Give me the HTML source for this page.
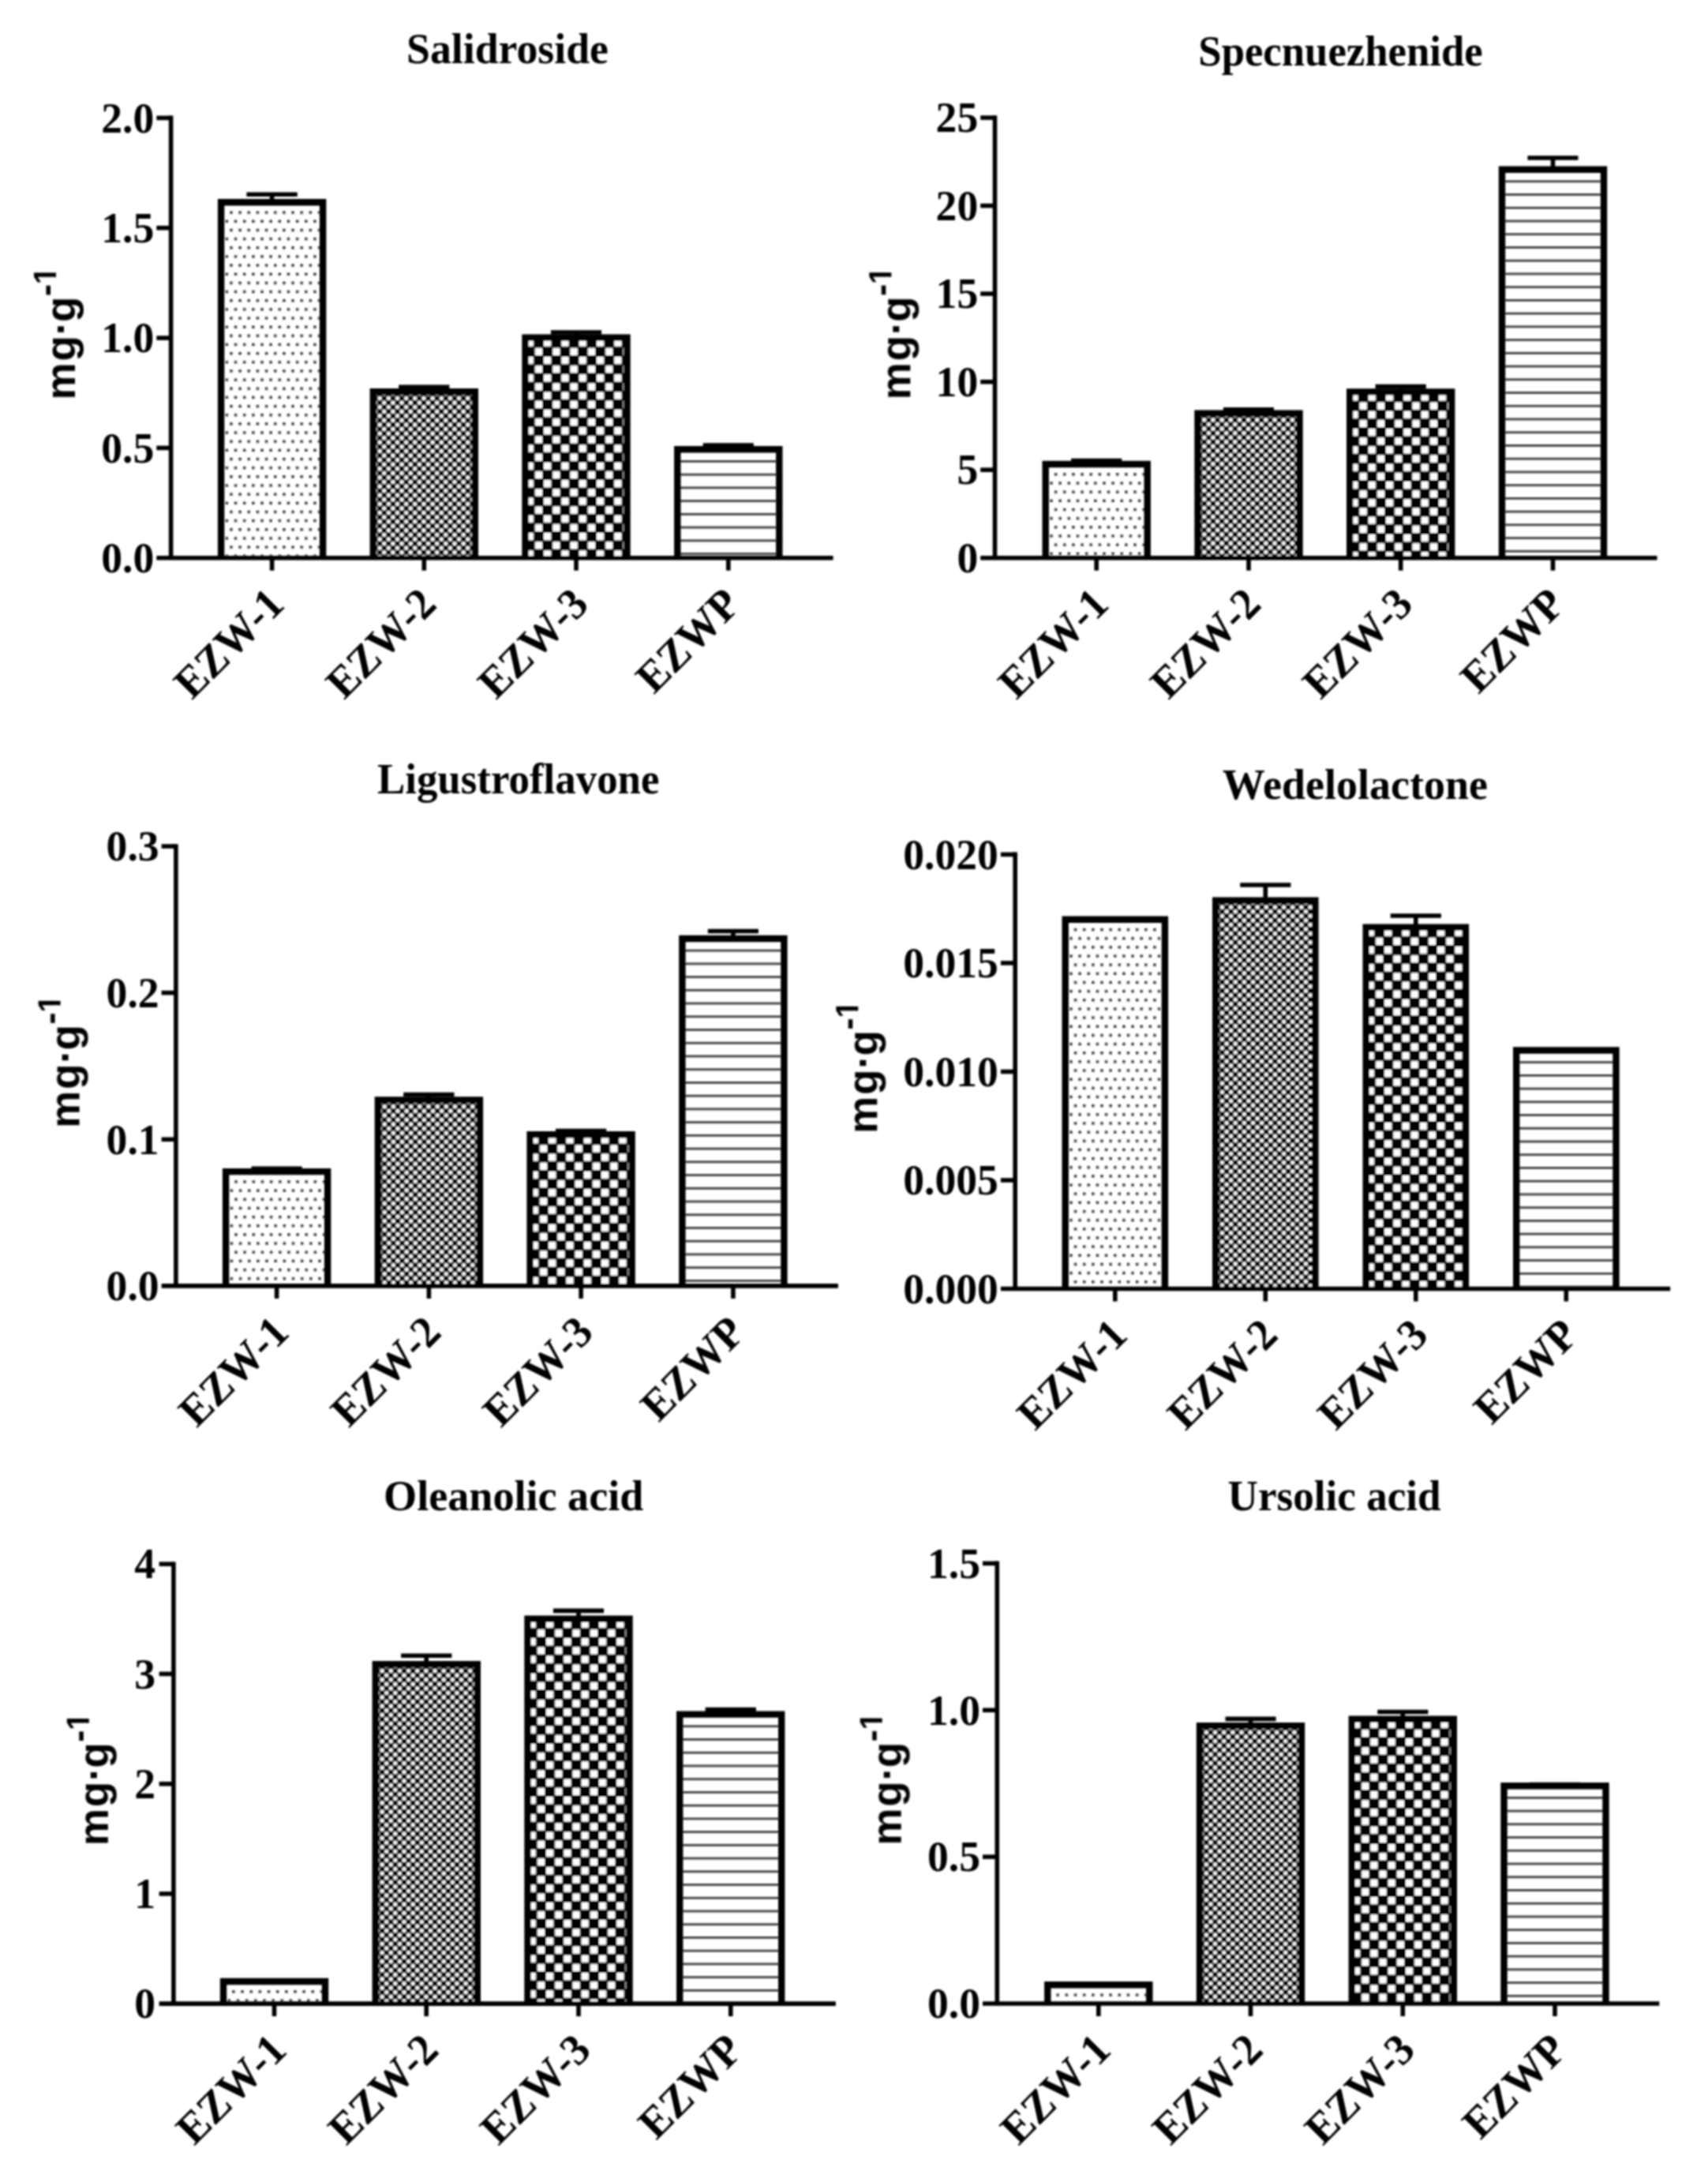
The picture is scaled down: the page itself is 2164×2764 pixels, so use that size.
<!DOCTYPE html>
<html lang="en"><head><meta charset="utf-8"><title>Figure</title>
<style>html,body{margin:0;padding:0;background:#fff}svg{display:block}text{font-weight:bold;fill:#000}.s{font-family:'Liberation Serif', serif;font-size:53.0px}.a{font-family:'Liberation Sans', sans-serif;font-size:53.0px}</style></head><body>
<svg width="2164" height="2764" viewBox="0 0 2164 2764">
<defs>
<filter id="bl" x="0" y="0" width="100%" height="100%" filterUnits="userSpaceOnUse" primitiveUnits="userSpaceOnUse"><feGaussianBlur stdDeviation="1.05"/></filter>
<clipPath id="cf"><path clip-rule="evenodd" d="M-60 -120H320V120H-60ZM147.72 -29.88H155.54V-22.00H147.72ZM161.02 -29.88H168.33V-22.00H161.02Z"/></clipPath>
</defs>
<rect x="0" y="0" width="2164" height="2764" fill="#fff"/>
<g filter="url(#bl)">
<g>
<text class="s" transform="translate(643.0 79.7) scale(1.0144 1.055)" text-anchor="middle">Salidroside</text>
<pattern id="p1" patternUnits="userSpaceOnUse" x="289.24" y="265.49" width="11.155" height="22.309"><rect x="2.000" y="2.000" width="3.4" height="3.4" fill="#333"/><rect x="7.577" y="13.155" width="3.4" height="3.4" fill="#333"/></pattern>
<path d="M312.4 246.2H376.7M344.6 246.2V256.3" stroke="#000" stroke-width="5.6" fill="none"/>
<rect x="280.1" y="256.3" width="129.0" height="450.4" fill="url(#p1)"/>
<path d="M280.1 706.7V256.3H409.1V706.7" fill="none" stroke="#000" stroke-width="8.4"/>
<pattern id="p2" patternUnits="userSpaceOnUse" x="478.36" y="501.76" width="11.155" height="11.155"><rect x="0" y="0" width="11.155" height="11.155" fill="#000"/><rect x="0.400" y="0.400" width="4.777" height="4.777" fill="#fff"/><rect x="5.977" y="5.977" width="4.777" height="4.777" fill="#fff"/></pattern>
<path d="M505.2 490.2H569.4M537.3 490.2V496.2" stroke="#000" stroke-width="5.6" fill="none"/>
<rect x="472.8" y="496.2" width="129.0" height="210.5" fill="url(#p2)"/>
<path d="M472.8 706.7V496.2H601.8V706.7" fill="none" stroke="#000" stroke-width="8.4"/>
<pattern id="p3" patternUnits="userSpaceOnUse" x="665.75" y="428.65" width="22.309" height="22.309"><rect x="0" y="0" width="22.309" height="22.309" fill="#000"/><rect x="0.900" y="0.900" width="9.355" height="9.355" fill="#fff"/><rect x="12.055" y="12.055" width="9.355" height="9.355" fill="#fff"/></pattern>
<path d="M697.9 421.0H762.1M730.0 421.0V427.6" stroke="#000" stroke-width="5.6" fill="none"/>
<rect x="665.5" y="427.6" width="129.0" height="279.1" fill="url(#p3)"/>
<path d="M665.5 706.7V427.6H794.5V706.7" fill="none" stroke="#000" stroke-width="8.4"/>
<pattern id="p4" patternUnits="userSpaceOnUse" x="854.10" y="583.00" width="16.732" height="16.732"><rect x="0" y="0" width="16.732" height="2.789" fill="#3c3c3c"/></pattern>
<path d="M890.7 564.0H954.9M922.8 564.0V569.3" stroke="#000" stroke-width="5.6" fill="none"/>
<rect x="858.3" y="569.3" width="129.0" height="137.4" fill="url(#p4)"/>
<path d="M858.3 706.7V569.3H987.3V706.7" fill="none" stroke="#000" stroke-width="8.4"/>
<path d="M198.3 706.7H1055.6" stroke="#000" stroke-width="5.6" fill="none"/>
<path d="M216.6 146.6V706.7" stroke="#000" stroke-width="5.6" fill="none"/>
<text class="s" transform="translate(195.3 724.9) scale(1.012 1.055)" text-anchor="end">0.0</text>
<path d="M198.3 567.4H216.6" stroke="#000" stroke-width="5.6" fill="none"/>
<text class="s" transform="translate(195.3 585.6) scale(1.012 1.055)" text-anchor="end">0.5</text>
<path d="M198.3 428.1H216.6" stroke="#000" stroke-width="5.6" fill="none"/>
<text class="s" transform="translate(195.3 446.2) scale(1.012 1.055)" text-anchor="end">1.0</text>
<path d="M198.3 288.7H216.6" stroke="#000" stroke-width="5.6" fill="none"/>
<text class="s" transform="translate(195.3 306.9) scale(1.012 1.055)" text-anchor="end">1.5</text>
<path d="M198.3 149.4H216.6" stroke="#000" stroke-width="5.6" fill="none"/>
<text class="s" transform="translate(195.3 167.6) scale(1.012 1.055)" text-anchor="end">2.0</text>
<path d="M344.6 706.7V722.7" stroke="#000" stroke-width="5.6" fill="none"/>
<text class="s" transform="translate(362.6 768.2) rotate(-45) scale(1.018 1.055)" text-anchor="end">EZW-1</text>
<path d="M537.3 706.7V722.7" stroke="#000" stroke-width="5.6" fill="none"/>
<text class="s" transform="translate(555.3 768.2) rotate(-45) scale(1.018 1.055)" text-anchor="end">EZW-2</text>
<path d="M730.0 706.7V722.7" stroke="#000" stroke-width="5.6" fill="none"/>
<text class="s" transform="translate(748.0 768.2) rotate(-45) scale(1.018 1.055)" text-anchor="end">EZW-3</text>
<path d="M922.8 706.7V722.7" stroke="#000" stroke-width="5.6" fill="none"/>
<text class="s" transform="translate(940.8 768.2) rotate(-45) scale(1.018 1.055)" text-anchor="end">EZWP</text>
<text class="a" clip-path="url(#cf)" transform="translate(95.0 506.5) rotate(-90)"><tspan x="0" y="0">m</tspan><tspan x="49.1" y="0">g</tspan><tspan x="82.1" y="0">·</tspan><tspan x="98.5" y="0">g</tspan><tspan x="131.3" y="-22.5" font-size="46">-</tspan><tspan x="146.2" y="-24.3" font-size="40">1</tspan></text>
</g>
<g>
<text class="s" transform="translate(1698.5 82.6) scale(0.9952 1.055)" text-anchor="middle">Specnuezhenide</text>
<pattern id="p5" patternUnits="userSpaceOnUse" x="1333.89" y="597.19" width="11.155" height="22.309"><rect x="2.000" y="2.000" width="3.4" height="3.4" fill="#333"/><rect x="7.577" y="13.155" width="3.4" height="3.4" fill="#333"/></pattern>
<path d="M1357.1 583.6H1421.3M1389.2 583.6V588.0" stroke="#000" stroke-width="5.6" fill="none"/>
<rect x="1324.7" y="588.0" width="129.0" height="118.7" fill="url(#p5)"/>
<path d="M1324.7 706.7V588.0H1453.7V706.7" fill="none" stroke="#000" stroke-width="8.4"/>
<pattern id="p6" patternUnits="userSpaceOnUse" x="1523.01" y="529.16" width="11.155" height="11.155"><rect x="0" y="0" width="11.155" height="11.155" fill="#000"/><rect x="0.400" y="0.400" width="4.777" height="4.777" fill="#fff"/><rect x="5.977" y="5.977" width="4.777" height="4.777" fill="#fff"/></pattern>
<path d="M1549.9 518.8H1614.0M1582.0 518.8V523.6" stroke="#000" stroke-width="5.6" fill="none"/>
<rect x="1517.5" y="523.6" width="129.0" height="183.1" fill="url(#p6)"/>
<path d="M1517.5 706.7V523.6H1646.5V706.7" fill="none" stroke="#000" stroke-width="8.4"/>
<pattern id="p7" patternUnits="userSpaceOnUse" x="1710.40" y="497.45" width="22.309" height="22.309"><rect x="0" y="0" width="22.309" height="22.309" fill="#000"/><rect x="0.900" y="0.900" width="9.355" height="9.355" fill="#fff"/><rect x="12.055" y="12.055" width="9.355" height="9.355" fill="#fff"/></pattern>
<path d="M1742.6 489.6H1806.8M1774.7 489.6V496.4" stroke="#000" stroke-width="5.6" fill="none"/>
<rect x="1710.2" y="496.4" width="129.0" height="210.3" fill="url(#p7)"/>
<path d="M1710.2 706.7V496.4H1839.2V706.7" fill="none" stroke="#000" stroke-width="8.4"/>
<pattern id="p8" patternUnits="userSpaceOnUse" x="1898.75" y="228.40" width="16.732" height="16.732"><rect x="0" y="0" width="16.732" height="2.789" fill="#3c3c3c"/></pattern>
<path d="M1935.4 200.0H1999.5M1967.5 200.0V214.7" stroke="#000" stroke-width="5.6" fill="none"/>
<rect x="1903.0" y="214.7" width="129.0" height="492.0" fill="url(#p8)"/>
<path d="M1903.0 706.7V214.7H2032.0V706.7" fill="none" stroke="#000" stroke-width="8.4"/>
<path d="M1242.2 706.7H2099.5" stroke="#000" stroke-width="5.6" fill="none"/>
<path d="M1260.5 146.3V706.7" stroke="#000" stroke-width="5.6" fill="none"/>
<text class="s" transform="translate(1239.2 724.9) scale(1.012 1.055)" text-anchor="end">0</text>
<path d="M1242.2 595.2H1260.5" stroke="#000" stroke-width="5.6" fill="none"/>
<text class="s" transform="translate(1239.2 613.4) scale(1.012 1.055)" text-anchor="end">5</text>
<path d="M1242.2 483.7H1260.5" stroke="#000" stroke-width="5.6" fill="none"/>
<text class="s" transform="translate(1239.2 501.9) scale(1.012 1.055)" text-anchor="end">10</text>
<path d="M1242.2 372.1H1260.5" stroke="#000" stroke-width="5.6" fill="none"/>
<text class="s" transform="translate(1239.2 390.3) scale(1.012 1.055)" text-anchor="end">15</text>
<path d="M1242.2 260.6H1260.5" stroke="#000" stroke-width="5.6" fill="none"/>
<text class="s" transform="translate(1239.2 278.8) scale(1.012 1.055)" text-anchor="end">20</text>
<path d="M1242.2 149.1H1260.5" stroke="#000" stroke-width="5.6" fill="none"/>
<text class="s" transform="translate(1239.2 167.3) scale(1.012 1.055)" text-anchor="end">25</text>
<path d="M1389.2 706.7V722.7" stroke="#000" stroke-width="5.6" fill="none"/>
<text class="s" transform="translate(1407.2 768.2) rotate(-45) scale(1.018 1.055)" text-anchor="end">EZW-1</text>
<path d="M1582.0 706.7V722.7" stroke="#000" stroke-width="5.6" fill="none"/>
<text class="s" transform="translate(1600.0 768.2) rotate(-45) scale(1.018 1.055)" text-anchor="end">EZW-2</text>
<path d="M1774.7 706.7V722.7" stroke="#000" stroke-width="5.6" fill="none"/>
<text class="s" transform="translate(1792.7 768.2) rotate(-45) scale(1.018 1.055)" text-anchor="end">EZW-3</text>
<path d="M1967.5 706.7V722.7" stroke="#000" stroke-width="5.6" fill="none"/>
<text class="s" transform="translate(1985.5 768.2) rotate(-45) scale(1.018 1.055)" text-anchor="end">EZWP</text>
<text class="a" clip-path="url(#cf)" transform="translate(1153.3 506.3) rotate(-90)"><tspan x="0" y="0">m</tspan><tspan x="49.1" y="0">g</tspan><tspan x="82.1" y="0">·</tspan><tspan x="98.5" y="0">g</tspan><tspan x="131.3" y="-22.5" font-size="46">-</tspan><tspan x="146.2" y="-24.3" font-size="40">1</tspan></text>
</g>
<g>
<text class="s" transform="translate(656.7 1004.6) scale(0.9985 1.055)" text-anchor="middle">Ligustroflavone</text>
<pattern id="p9" patternUnits="userSpaceOnUse" x="295.29" y="1493.29" width="11.155" height="22.309"><rect x="2.000" y="2.000" width="3.4" height="3.4" fill="#333"/><rect x="7.577" y="13.155" width="3.4" height="3.4" fill="#333"/></pattern>
<path d="M318.5 1480.2H382.7M350.6 1480.2V1484.1" stroke="#000" stroke-width="5.6" fill="none"/>
<rect x="286.1" y="1484.1" width="129.0" height="144.8" fill="url(#p9)"/>
<path d="M286.1 1628.9V1484.1H415.1V1628.9" fill="none" stroke="#000" stroke-width="8.4"/>
<pattern id="p10" patternUnits="userSpaceOnUse" x="484.41" y="1398.96" width="11.155" height="11.155"><rect x="0" y="0" width="11.155" height="11.155" fill="#000"/><rect x="0.400" y="0.400" width="4.777" height="4.777" fill="#fff"/><rect x="5.977" y="5.977" width="4.777" height="4.777" fill="#fff"/></pattern>
<path d="M511.2 1386.5H575.5M543.4 1386.5V1393.4" stroke="#000" stroke-width="5.6" fill="none"/>
<rect x="478.9" y="1393.4" width="129.0" height="235.5" fill="url(#p10)"/>
<path d="M478.9 1628.9V1393.4H607.9V1628.9" fill="none" stroke="#000" stroke-width="8.4"/>
<pattern id="p11" patternUnits="userSpaceOnUse" x="671.80" y="1438.25" width="22.309" height="22.309"><rect x="0" y="0" width="22.309" height="22.309" fill="#000"/><rect x="0.900" y="0.900" width="9.355" height="9.355" fill="#fff"/><rect x="12.055" y="12.055" width="9.355" height="9.355" fill="#fff"/></pattern>
<path d="M704.0 1432.6H768.2M736.1 1432.6V1437.2" stroke="#000" stroke-width="5.6" fill="none"/>
<rect x="671.6" y="1437.2" width="129.0" height="191.7" fill="url(#p11)"/>
<path d="M671.6 1628.9V1437.2H800.6V1628.9" fill="none" stroke="#000" stroke-width="8.4"/>
<pattern id="p12" patternUnits="userSpaceOnUse" x="860.15" y="1202.70" width="16.732" height="16.732"><rect x="0" y="0" width="16.732" height="2.789" fill="#3c3c3c"/></pattern>
<path d="M896.8 1179.5H961.0M928.9 1179.5V1189.0" stroke="#000" stroke-width="5.6" fill="none"/>
<rect x="864.4" y="1189.0" width="129.0" height="439.9" fill="url(#p12)"/>
<path d="M864.4 1628.9V1189.0H993.4V1628.9" fill="none" stroke="#000" stroke-width="8.4"/>
<path d="M204.6 1628.9H1061.9" stroke="#000" stroke-width="5.6" fill="none"/>
<path d="M222.9 1069.2V1628.9" stroke="#000" stroke-width="5.6" fill="none"/>
<text class="s" transform="translate(201.6 1647.1) scale(1.012 1.055)" text-anchor="end">0.0</text>
<path d="M204.6 1443.3H222.9" stroke="#000" stroke-width="5.6" fill="none"/>
<text class="s" transform="translate(201.6 1461.5) scale(1.012 1.055)" text-anchor="end">0.1</text>
<path d="M204.6 1257.6H222.9" stroke="#000" stroke-width="5.6" fill="none"/>
<text class="s" transform="translate(201.6 1275.8) scale(1.012 1.055)" text-anchor="end">0.2</text>
<path d="M204.6 1072.0H222.9" stroke="#000" stroke-width="5.6" fill="none"/>
<text class="s" transform="translate(201.6 1090.2) scale(1.012 1.055)" text-anchor="end">0.3</text>
<path d="M350.6 1628.9V1644.9" stroke="#000" stroke-width="5.6" fill="none"/>
<text class="s" transform="translate(368.6 1690.4) rotate(-45) scale(1.018 1.055)" text-anchor="end">EZW-1</text>
<path d="M543.4 1628.9V1644.9" stroke="#000" stroke-width="5.6" fill="none"/>
<text class="s" transform="translate(561.4 1690.4) rotate(-45) scale(1.018 1.055)" text-anchor="end">EZW-2</text>
<path d="M736.1 1628.9V1644.9" stroke="#000" stroke-width="5.6" fill="none"/>
<text class="s" transform="translate(754.1 1690.4) rotate(-45) scale(1.018 1.055)" text-anchor="end">EZW-3</text>
<path d="M928.9 1628.9V1644.9" stroke="#000" stroke-width="5.6" fill="none"/>
<text class="s" transform="translate(946.9 1690.4) rotate(-45) scale(1.018 1.055)" text-anchor="end">EZWP</text>
<text class="a" clip-path="url(#cf)" transform="translate(100.6 1428.9) rotate(-90)"><tspan x="0" y="0">m</tspan><tspan x="49.1" y="0">g</tspan><tspan x="82.1" y="0">·</tspan><tspan x="98.5" y="0">g</tspan><tspan x="131.3" y="-22.5" font-size="46">-</tspan><tspan x="146.2" y="-24.3" font-size="40">1</tspan></text>
</g>
<g>
<text class="s" transform="translate(1716.9 1012.4) scale(1.0194 1.055)" text-anchor="middle">Wedelolactone</text>
<pattern id="p13" patternUnits="userSpaceOnUse" x="1358.84" y="1173.89" width="11.155" height="22.309"><rect x="2.000" y="2.000" width="3.4" height="3.4" fill="#333"/><rect x="7.577" y="13.155" width="3.4" height="3.4" fill="#333"/></pattern>
<rect x="1349.7" y="1164.7" width="126.3" height="467.8" fill="url(#p13)"/>
<path d="M1349.7 1632.5V1164.7H1475.9V1632.5" fill="none" stroke="#000" stroke-width="8.4"/>
<pattern id="p14" patternUnits="userSpaceOnUse" x="1545.71" y="1146.36" width="11.155" height="11.155"><rect x="0" y="0" width="11.155" height="11.155" fill="#000"/><rect x="0.400" y="0.400" width="4.777" height="4.777" fill="#fff"/><rect x="5.977" y="5.977" width="4.777" height="4.777" fill="#fff"/></pattern>
<path d="M1571.2 1121.0H1635.4M1603.3 1121.0V1140.8" stroke="#000" stroke-width="5.6" fill="none"/>
<rect x="1540.2" y="1140.8" width="126.3" height="491.7" fill="url(#p14)"/>
<path d="M1540.2 1632.5V1140.8H1666.4V1632.5" fill="none" stroke="#000" stroke-width="8.4"/>
<pattern id="p15" patternUnits="userSpaceOnUse" x="1730.85" y="1175.65" width="22.309" height="22.309"><rect x="0" y="0" width="22.309" height="22.309" fill="#000"/><rect x="0.900" y="0.900" width="9.355" height="9.355" fill="#fff"/><rect x="12.055" y="12.055" width="9.355" height="9.355" fill="#fff"/></pattern>
<path d="M1761.7 1160.0H1825.9M1793.8 1160.0V1174.6" stroke="#000" stroke-width="5.6" fill="none"/>
<rect x="1730.7" y="1174.6" width="126.3" height="457.9" fill="url(#p15)"/>
<path d="M1730.7 1632.5V1174.6H1856.9V1632.5" fill="none" stroke="#000" stroke-width="8.4"/>
<pattern id="p16" patternUnits="userSpaceOnUse" x="1916.95" y="1344.20" width="16.732" height="16.732"><rect x="0" y="0" width="16.732" height="2.789" fill="#3c3c3c"/></pattern>
<rect x="1921.2" y="1330.5" width="126.3" height="302.0" fill="url(#p16)"/>
<path d="M1921.2 1632.5V1330.5H2047.5V1632.5" fill="none" stroke="#000" stroke-width="8.4"/>
<path d="M1267.9 1632.5H2116.2" stroke="#000" stroke-width="5.6" fill="none"/>
<path d="M1286.2 1079.6V1632.5" stroke="#000" stroke-width="5.6" fill="none"/>
<text class="s" transform="translate(1264.9 1650.7) scale(1.012 1.055)" text-anchor="end">0.000</text>
<path d="M1267.9 1495.0H1286.2" stroke="#000" stroke-width="5.6" fill="none"/>
<text class="s" transform="translate(1264.9 1513.2) scale(1.012 1.055)" text-anchor="end">0.005</text>
<path d="M1267.9 1357.5H1286.2" stroke="#000" stroke-width="5.6" fill="none"/>
<text class="s" transform="translate(1264.9 1375.7) scale(1.012 1.055)" text-anchor="end">0.010</text>
<path d="M1267.9 1219.9H1286.2" stroke="#000" stroke-width="5.6" fill="none"/>
<text class="s" transform="translate(1264.9 1238.1) scale(1.012 1.055)" text-anchor="end">0.015</text>
<path d="M1267.9 1082.4H1286.2" stroke="#000" stroke-width="5.6" fill="none"/>
<text class="s" transform="translate(1264.9 1100.6) scale(1.012 1.055)" text-anchor="end">0.020</text>
<path d="M1412.8 1632.5V1648.5" stroke="#000" stroke-width="5.6" fill="none"/>
<text class="s" transform="translate(1430.8 1694.0) rotate(-45) scale(1.018 1.055)" text-anchor="end">EZW-1</text>
<path d="M1603.3 1632.5V1648.5" stroke="#000" stroke-width="5.6" fill="none"/>
<text class="s" transform="translate(1621.3 1694.0) rotate(-45) scale(1.018 1.055)" text-anchor="end">EZW-2</text>
<path d="M1793.8 1632.5V1648.5" stroke="#000" stroke-width="5.6" fill="none"/>
<text class="s" transform="translate(1811.8 1694.0) rotate(-45) scale(1.018 1.055)" text-anchor="end">EZW-3</text>
<path d="M1984.3 1632.5V1648.5" stroke="#000" stroke-width="5.6" fill="none"/>
<text class="s" transform="translate(2002.3 1694.0) rotate(-45) scale(1.018 1.055)" text-anchor="end">EZWP</text>
<text class="a" clip-path="url(#cf)" transform="translate(1111.3 1435.9) rotate(-90)"><tspan x="0" y="0">m</tspan><tspan x="49.1" y="0">g</tspan><tspan x="82.1" y="0">·</tspan><tspan x="98.5" y="0">g</tspan><tspan x="131.3" y="-22.5" font-size="46">-</tspan><tspan x="146.2" y="-24.3" font-size="40">1</tspan></text>
</g>
<g>
<text class="s" transform="translate(650.7 1913.2) scale(1.0218 1.055)" text-anchor="middle">Oleanolic acid</text>
<pattern id="p17" patternUnits="userSpaceOnUse" x="292.19" y="2519.19" width="11.155" height="22.309"><rect x="2.000" y="2.000" width="3.4" height="3.4" fill="#333"/><rect x="7.577" y="13.155" width="3.4" height="3.4" fill="#333"/></pattern>
<rect x="283.0" y="2510.0" width="129.0" height="28.1" fill="url(#p17)"/>
<path d="M283.0 2538.1V2510.0H412.0V2538.1" fill="none" stroke="#000" stroke-width="8.4"/>
<pattern id="p18" patternUnits="userSpaceOnUse" x="481.31" y="2113.76" width="11.155" height="11.155"><rect x="0" y="0" width="11.155" height="11.155" fill="#000"/><rect x="0.400" y="0.400" width="4.777" height="4.777" fill="#fff"/><rect x="5.977" y="5.977" width="4.777" height="4.777" fill="#fff"/></pattern>
<path d="M508.1 2097.2H572.4M540.2 2097.2V2108.2" stroke="#000" stroke-width="5.6" fill="none"/>
<rect x="475.8" y="2108.2" width="129.0" height="429.9" fill="url(#p18)"/>
<path d="M475.8 2538.1V2108.2H604.8V2538.1" fill="none" stroke="#000" stroke-width="8.4"/>
<pattern id="p19" patternUnits="userSpaceOnUse" x="668.70" y="2051.85" width="22.309" height="22.309"><rect x="0" y="0" width="22.309" height="22.309" fill="#000"/><rect x="0.900" y="0.900" width="9.355" height="9.355" fill="#fff"/><rect x="12.055" y="12.055" width="9.355" height="9.355" fill="#fff"/></pattern>
<path d="M700.9 2040.4H765.1M733.0 2040.4V2050.8" stroke="#000" stroke-width="5.6" fill="none"/>
<rect x="668.5" y="2050.8" width="129.0" height="487.3" fill="url(#p19)"/>
<path d="M668.5 2538.1V2050.8H797.5V2538.1" fill="none" stroke="#000" stroke-width="8.4"/>
<pattern id="p20" patternUnits="userSpaceOnUse" x="857.05" y="2185.30" width="16.732" height="16.732"><rect x="0" y="0" width="16.732" height="2.789" fill="#3c3c3c"/></pattern>
<path d="M893.6 2165.6H957.9M925.8 2165.6V2171.6" stroke="#000" stroke-width="5.6" fill="none"/>
<rect x="861.2" y="2171.6" width="129.0" height="366.5" fill="url(#p20)"/>
<path d="M861.2 2538.1V2171.6H990.2V2538.1" fill="none" stroke="#000" stroke-width="8.4"/>
<path d="M201.6 2538.1H1058.9" stroke="#000" stroke-width="5.6" fill="none"/>
<path d="M219.9 1978.4V2538.1" stroke="#000" stroke-width="5.6" fill="none"/>
<text class="s" transform="translate(197.0 2556.3) scale(1.012 1.055)" text-anchor="end">0</text>
<path d="M201.6 2398.9H219.9" stroke="#000" stroke-width="5.6" fill="none"/>
<text class="s" transform="translate(197.0 2417.1) scale(1.012 1.055)" text-anchor="end">1</text>
<path d="M201.6 2259.7H219.9" stroke="#000" stroke-width="5.6" fill="none"/>
<text class="s" transform="translate(197.0 2277.8) scale(1.012 1.055)" text-anchor="end">2</text>
<path d="M201.6 2120.4H219.9" stroke="#000" stroke-width="5.6" fill="none"/>
<text class="s" transform="translate(197.0 2138.6) scale(1.012 1.055)" text-anchor="end">3</text>
<path d="M201.6 1981.2H219.9" stroke="#000" stroke-width="5.6" fill="none"/>
<text class="s" transform="translate(197.0 1999.4) scale(1.012 1.055)" text-anchor="end">4</text>
<path d="M347.5 2538.1V2554.1" stroke="#000" stroke-width="5.6" fill="none"/>
<text class="s" transform="translate(365.5 2599.6) rotate(-45) scale(1.018 1.055)" text-anchor="end">EZW-1</text>
<path d="M540.2 2538.1V2554.1" stroke="#000" stroke-width="5.6" fill="none"/>
<text class="s" transform="translate(558.2 2599.6) rotate(-45) scale(1.018 1.055)" text-anchor="end">EZW-2</text>
<path d="M733.0 2538.1V2554.1" stroke="#000" stroke-width="5.6" fill="none"/>
<text class="s" transform="translate(751.0 2599.6) rotate(-45) scale(1.018 1.055)" text-anchor="end">EZW-3</text>
<path d="M925.8 2538.1V2554.1" stroke="#000" stroke-width="5.6" fill="none"/>
<text class="s" transform="translate(943.8 2599.6) rotate(-45) scale(1.018 1.055)" text-anchor="end">EZWP</text>
<text class="a" clip-path="url(#cf)" transform="translate(136.8 2338.1) rotate(-90)"><tspan x="0" y="0">m</tspan><tspan x="49.1" y="0">g</tspan><tspan x="82.1" y="0">·</tspan><tspan x="98.5" y="0">g</tspan><tspan x="131.3" y="-22.5" font-size="46">-</tspan><tspan x="146.2" y="-24.3" font-size="40">1</tspan></text>
</g>
<g>
<text class="s" transform="translate(1690.6 1913.2) scale(1.003 1.055)" text-anchor="middle">Ursolic acid</text>
<pattern id="p21" patternUnits="userSpaceOnUse" x="1336.49" y="2523.39" width="11.155" height="22.309"><rect x="2.000" y="2.000" width="3.4" height="3.4" fill="#333"/><rect x="7.577" y="13.155" width="3.4" height="3.4" fill="#333"/></pattern>
<rect x="1327.3" y="2514.2" width="129.0" height="23.8" fill="url(#p21)"/>
<path d="M1327.3 2538.0V2514.2H1456.3V2538.0" fill="none" stroke="#000" stroke-width="8.4"/>
<pattern id="p22" patternUnits="userSpaceOnUse" x="1525.61" y="2191.66" width="11.155" height="11.155"><rect x="0" y="0" width="11.155" height="11.155" fill="#000"/><rect x="0.400" y="0.400" width="4.777" height="4.777" fill="#fff"/><rect x="5.977" y="5.977" width="4.777" height="4.777" fill="#fff"/></pattern>
<path d="M1552.5 2177.4H1616.6M1584.5 2177.4V2186.1" stroke="#000" stroke-width="5.6" fill="none"/>
<rect x="1520.0" y="2186.1" width="129.0" height="351.9" fill="url(#p22)"/>
<path d="M1520.0 2538.0V2186.1H1649.0V2538.0" fill="none" stroke="#000" stroke-width="8.4"/>
<pattern id="p23" patternUnits="userSpaceOnUse" x="1713.00" y="2178.85" width="22.309" height="22.309"><rect x="0" y="0" width="22.309" height="22.309" fill="#000"/><rect x="0.900" y="0.900" width="9.355" height="9.355" fill="#fff"/><rect x="12.055" y="12.055" width="9.355" height="9.355" fill="#fff"/></pattern>
<path d="M1745.2 2168.5H1809.4M1777.3 2168.5V2177.8" stroke="#000" stroke-width="5.6" fill="none"/>
<rect x="1712.8" y="2177.8" width="129.0" height="360.2" fill="url(#p23)"/>
<path d="M1712.8 2538.0V2177.8H1841.8V2538.0" fill="none" stroke="#000" stroke-width="8.4"/>
<pattern id="p24" patternUnits="userSpaceOnUse" x="1901.35" y="2275.90" width="16.732" height="16.732"><rect x="0" y="0" width="16.732" height="2.789" fill="#3c3c3c"/></pattern>
<path d="M1938.0 2260.6H2002.1M1970.0 2260.6V2262.2" stroke="#000" stroke-width="5.6" fill="none"/>
<rect x="1905.5" y="2262.2" width="129.0" height="275.8" fill="url(#p24)"/>
<path d="M1905.5 2538.0V2262.2H2034.5V2538.0" fill="none" stroke="#000" stroke-width="8.4"/>
<path d="M1245.0 2538.0H2102.3" stroke="#000" stroke-width="5.6" fill="none"/>
<path d="M1263.3 1977.6V2538.0" stroke="#000" stroke-width="5.6" fill="none"/>
<text class="s" transform="translate(1242.0 2556.2) scale(1.012 1.055)" text-anchor="end">0.0</text>
<path d="M1245.0 2352.1H1263.3" stroke="#000" stroke-width="5.6" fill="none"/>
<text class="s" transform="translate(1242.0 2370.3) scale(1.012 1.055)" text-anchor="end">0.5</text>
<path d="M1245.0 2166.3H1263.3" stroke="#000" stroke-width="5.6" fill="none"/>
<text class="s" transform="translate(1242.0 2184.5) scale(1.012 1.055)" text-anchor="end">1.0</text>
<path d="M1245.0 1980.4H1263.3" stroke="#000" stroke-width="5.6" fill="none"/>
<text class="s" transform="translate(1242.0 1998.6) scale(1.012 1.055)" text-anchor="end">1.5</text>
<path d="M1391.8 2538.0V2554.0" stroke="#000" stroke-width="5.6" fill="none"/>
<text class="s" transform="translate(1409.8 2599.5) rotate(-45) scale(1.018 1.055)" text-anchor="end">EZW-1</text>
<path d="M1584.5 2538.0V2554.0" stroke="#000" stroke-width="5.6" fill="none"/>
<text class="s" transform="translate(1602.5 2599.5) rotate(-45) scale(1.018 1.055)" text-anchor="end">EZW-2</text>
<path d="M1777.3 2538.0V2554.0" stroke="#000" stroke-width="5.6" fill="none"/>
<text class="s" transform="translate(1795.3 2599.5) rotate(-45) scale(1.018 1.055)" text-anchor="end">EZW-3</text>
<path d="M1970.0 2538.0V2554.0" stroke="#000" stroke-width="5.6" fill="none"/>
<text class="s" transform="translate(1988.0 2599.5) rotate(-45) scale(1.018 1.055)" text-anchor="end">EZWP</text>
<text class="a" clip-path="url(#cf)" transform="translate(1141.7 2337.6) rotate(-90)"><tspan x="0" y="0">m</tspan><tspan x="49.1" y="0">g</tspan><tspan x="82.1" y="0">·</tspan><tspan x="98.5" y="0">g</tspan><tspan x="131.3" y="-22.5" font-size="46">-</tspan><tspan x="146.2" y="-24.3" font-size="40">1</tspan></text>
</g>
</g>
</svg></body></html>
